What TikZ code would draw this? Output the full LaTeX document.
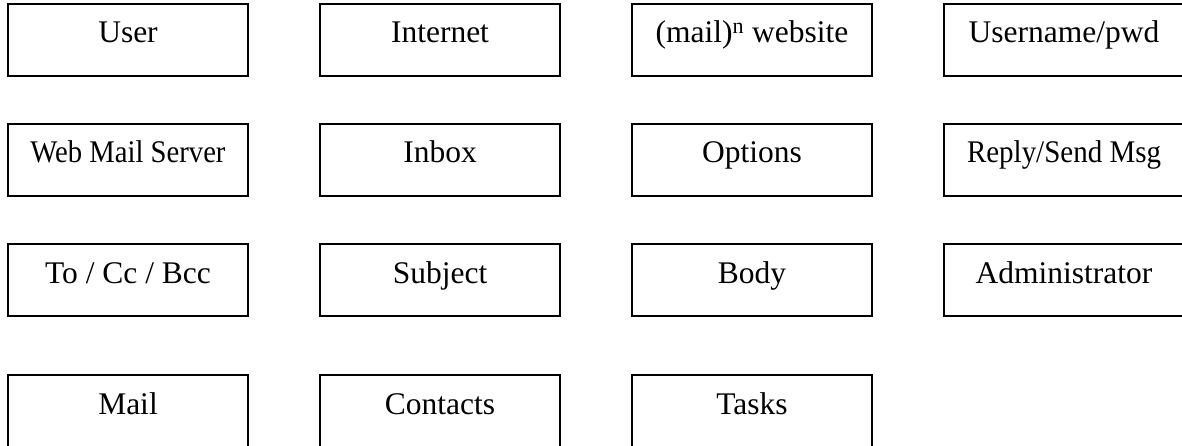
\documentclass[tikz,border=0pt]{standalone}
\usepackage{fontspec}
\setmainfont{Liberation Serif}
\usepackage{graphicx}
\begin{document}
\begin{tikzpicture}[x=1pt,y=-1pt,
  box/.style={draw=black, line width=1.6pt, rectangle, inner sep=0pt,
    minimum width=240pt, minimum height=72pt, text height=39pt, text depth=33pt,
    font=\fontsize{31.5}{36}\selectfont},
  tight/.style={},
]
\useasboundingbox (0,0) rectangle (1182,446);
\fill[white] (0,0) rectangle (1182,446);
\clip (0,0) rectangle (1182,446);
% columns: left edges 8, 320, 632, 944 (centres +120); rows: tops 4, 124, 244, 375 (centres +36)
\node[box] (user)  at (128,40)  {User};
\node[box] (inet)  at (440,40)  {Internet};
\node[box] (site)  at (752,40)  {(mail)\textsuperscript{n} website};
\node[box] (login) at (1064,40) {Username/pwd};

\node[box] (server) at (128,160)  {\scalebox{0.91}[1]{Web Mail Server}};
\node[box] (inbox)  at (440,160)  {Inbox};
\node[box] (opts)   at (752,160)  {Options};
\node[box] (reply)  at (1064,160) {\scalebox{0.92}[1]{Reply/Send Msg}};

\node[box] (tocc)  at (128,280)  {To / Cc / Bcc};
\node[box] (subj)  at (440,280)  {Subject};
\node[box] (body)  at (752,280)  {Body};
\node[box] (admin) at (1064,280) {Administrator};

\node[box] (mail)     at (128,411) {Mail};
\node[box] (contacts) at (440,411) {Contacts};
\node[box] (tasks)    at (752,411) {Tasks};
\end{tikzpicture}
\end{document}
